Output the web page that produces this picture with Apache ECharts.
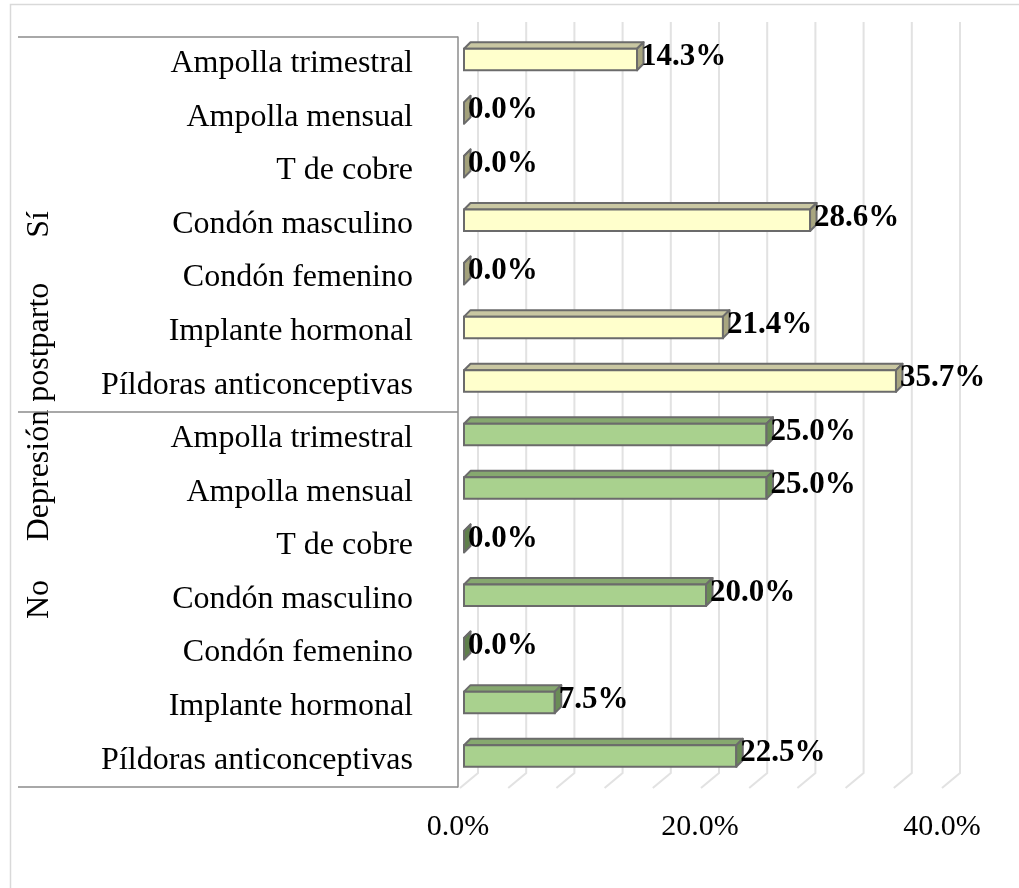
<!DOCTYPE html>
<html>
<head>
<meta charset="utf-8">
<script src="https://cdn.jsdelivr.net/npm/echarts@6/dist/echarts.min.js"></script>
<style>
html,body{margin:0;padding:0;background:#fff;}
#chart{width:1019px;height:888px;}
</style>
</head>
<body>
<div id="chart"></div>
<script>
// ---- data ----
const methods = ['Ampolla trimestral','Ampolla mensual','T de cobre','Condón masculino','Condón femenino','Implante hormonal','Píldoras anticonceptivas'];
const groups = ['Sí','No'];
const groupTitle = 'Depresión postparto';
const valuesSi = [14.3, 0.0, 0.0, 28.6, 0.0, 21.4, 35.7];
const valuesNo = [25.0, 25.0, 0.0, 20.0, 0.0, 7.5, 22.5];
const axisTicks = [0, 20, 40];
const gridTicks = [0, 4, 8, 12, 16, 20, 24, 28, 32, 36, 40];

// ---- build ----
const categories = methods.concat(methods);
const barData = [];
valuesSi.forEach((v, i) => barData.push({value: [v, i, 0]}));
valuesNo.forEach((v, i) => barData.push({value: [v, methods.length + i, 1]}));

const palette = [
  {front: '#FFFFCC', top: '#C9C7A2', side: '#A8A680', zero: '#A3A17B'},
  {front: '#A9D18E', top: '#86A86F', side: '#6A8C56', zero: '#5F7F4B'}
];
const edge = '#6B6B6B';
const serif = '"Liberation Serif", "Times New Roman", serif';

const chart = echarts.init(document.getElementById('chart'), null, {renderer: 'canvas'});

const option = {
  animation: false,
  backgroundColor: '#fff',
  graphic: [{
    type: 'rect', z: -10, silent: true,
    shape: {x: 10.5, y: 4.5, width: 1100, height: 1000},
    style: {fill: 'none', stroke: '#D9D9D9', lineWidth: 1.5}
  }],
  grid: [
    {left: 464, right: 71, top: 37, bottom: 101, outerBoundsMode: 'none', containLabel: false},   // bars
    {left: 478, right: 59, top: 22, bottom: 115, outerBoundsMode: 'none', containLabel: false},   // back-wall gridlines
    {left: 458, right: 77, top: 780, bottom: 98, outerBoundsMode: 'none', containLabel: false},   // value labels
    {left: 458, right: 77, top: 37, bottom: 101, outerBoundsMode: 'none', containLabel: false}    // category axes
  ],
  xAxis: [
    {gridIndex: 0, type: 'value', min: 0, max: 40, show: false},
    {gridIndex: 1, type: 'value', min: 0, max: 40, show: false},
    {gridIndex: 2, type: 'value', min: 0, max: 40, interval: 20,
      axisLine: {show: false}, axisTick: {show: false}, splitLine: {show: false},
      axisLabel: {margin: 22, fontFamily: serif, fontSize: 30, color: '#000',
        formatter: v => axisTicks.indexOf(v) >= 0 ? v.toFixed(1) + '%' : ''}},
    {gridIndex: 3, type: 'value', min: 0, max: 40, show: false}
  ],
  yAxis: [
    {gridIndex: 0, type: 'category', data: categories, inverse: true, show: false},
    {gridIndex: 3, type: 'category', data: categories, inverse: true,
      axisLine: {show: false}, axisTick: {show: false}, splitLine: {show: false},
      axisLabel: {margin: 45, fontFamily: serif, fontSize: 32, color: '#000', interval: 0}},
    {gridIndex: 3, type: 'category', data: groups, inverse: true, position: 'left',
      axisLine: {show: true, lineStyle: {color: '#8C8C8C', width: 1.5}},
      axisTick: {show: true, length: 440, lineStyle: {color: '#8C8C8C', width: 1.5}},
      splitLine: {show: false},
      axisLabel: {rotate: 90, margin: 402, fontFamily: serif, fontSize: 32, color: '#000'},
      name: groupTitle, nameLocation: 'middle', nameRotate: 90, nameGap: 402, nameMoveOverlap: false,
      nameTextStyle: {fontFamily: serif, fontSize: 32, color: '#000'}},
    {gridIndex: 1, type: 'value', min: 0, max: 1, show: false},
    {gridIndex: 2, type: 'value', min: 0, max: 1, show: false}
  ],
  series: [
    {
      type: 'custom', xAxisIndex: 1, yAxisIndex: 3, z: 0, silent: true,
      data: gridTicks.map(v => [v]),
      renderItem: (params, api) => {
        const t = api.coord([api.value(0), 1]);
        const b = api.coord([api.value(0), 0]);
        return {type: 'polyline',
          shape: {points: [t, b, [b[0] - 18, b[1] + 15]]},
          style: {stroke: '#E2E2E2', lineWidth: 2, fill: 'none'}};
      }
    },
    {
      type: 'custom', xAxisIndex: 0, yAxisIndex: 0, z: 5,
      data: barData,
      renderItem: (params, api) => {
        const v = api.value(0), idx = api.value(1), g = api.value(2);
        const p0 = api.coord([0, idx]);
        const p1 = api.coord([v, idx]);
        const x0 = p0[0], x1 = p1[0], yc = p0[1];
        const top = yc - 15, bot = yc + 6.5, d = 6.5;
        const c = palette[g];
        const zero = v === 0;
        return {type: 'group', children: [
          {type: 'polygon', shape: {points: [[x0, top], [x0 + d, top - d], [x1 + d, top - d], [x1, top]]},
            style: {fill: c.top, stroke: edge, lineWidth: 2, lineJoin: 'round'}},
          {type: 'rect', shape: {x: x0, y: top, width: x1 - x0, height: bot - top},
            style: {fill: c.front, stroke: edge, lineWidth: 2}},
          {type: 'polygon', shape: {points: [[x1, top], [x1 + d, top - d], [x1 + d, bot - d], [x1, bot]]},
            style: {fill: zero ? c.zero : c.side, stroke: edge, lineWidth: 2, lineJoin: 'round'}},
          {type: 'text', style: {x: x1 + 4, y: yc - 7, text: v.toFixed(1) + '%',
            fontFamily: serif, fontWeight: 'bold', fontSize: 31, fill: '#000',
            align: 'left', verticalAlign: 'middle'}}
        ]};
      }
    }
  ]
};
chart.setOption(option);
</script>
</body>
</html>
